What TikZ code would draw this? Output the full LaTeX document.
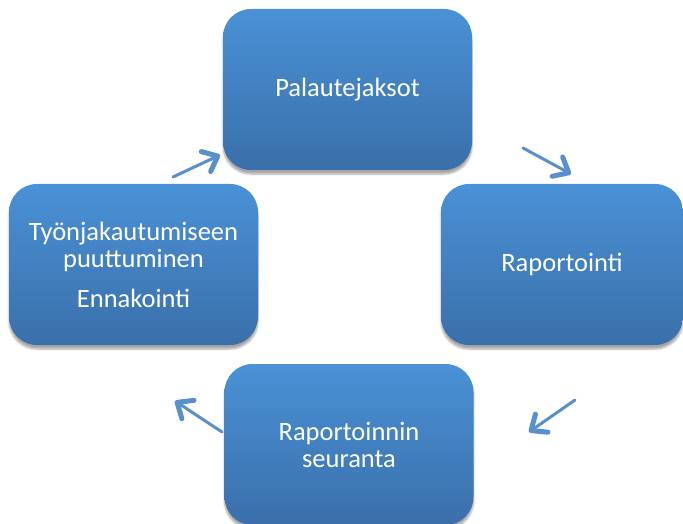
\documentclass[tikz,border=0pt]{standalone}
\usepackage{fontspec}
\setmainfont{Carlito}
\usetikzlibrary{arrows.meta,shadows.blur}
\definecolor{boxtop}{RGB}{74,145,214}
\definecolor{boxbot}{RGB}{58,111,170}
\definecolor{arr}{RGB}{88,143,205}
\begin{document}
\begin{tikzpicture}[x=1pt,y=-1pt,
  box/.style={rounded corners=28pt, top color=boxtop, bottom color=boxbot, draw=none,
    blur shadow={shadow xshift=0pt, shadow yshift=-4pt, shadow blur steps=6, shadow opacity=35},
    text=white, font=\fontsize{26.5}{27}\selectfont, align=center,
    minimum width=249pt, minimum height=161pt, inner sep=0pt},
  cyc/.style={draw=arr, line width=3pt, line cap=round,
    -{Straight Barb[length=13pt, width=22pt, line width=5pt, round]}}]
\useasboundingbox (0,0) rectangle (683,524);
\clip (0,0) rectangle (683,524);
\node[box] (fb) at (347.5,89.5) {Palautejaksot};
\node[box, minimum width=242pt] (rep) at (562,264.5) {Raportointi};
\node[box] (fol) at (349,444.5) {Raportoinnin\\seuranta};
\node[box] (ant) at (133.5,264.5) {Työnjakautumiseen\\puuttuminen\\[13pt]Ennakointi};
\coordinate (a1s) at (173,177);
\coordinate (a1e) at (220,155);
\coordinate (a2s) at (523,148);
\coordinate (a2e) at (571,174);
\coordinate (a3s) at (575,400);
\coordinate (a3e) at (529,432);
\coordinate (a4s) at (222,432);
\coordinate (a4e) at (175,401);
\draw[cyc] (a1s) -- (a1e);
\draw[cyc] (a2s) -- (a2e);
\draw[cyc] (a3s) -- (a3e);
\draw[cyc] (a4s) -- (a4e);
\end{tikzpicture}
\end{document}
